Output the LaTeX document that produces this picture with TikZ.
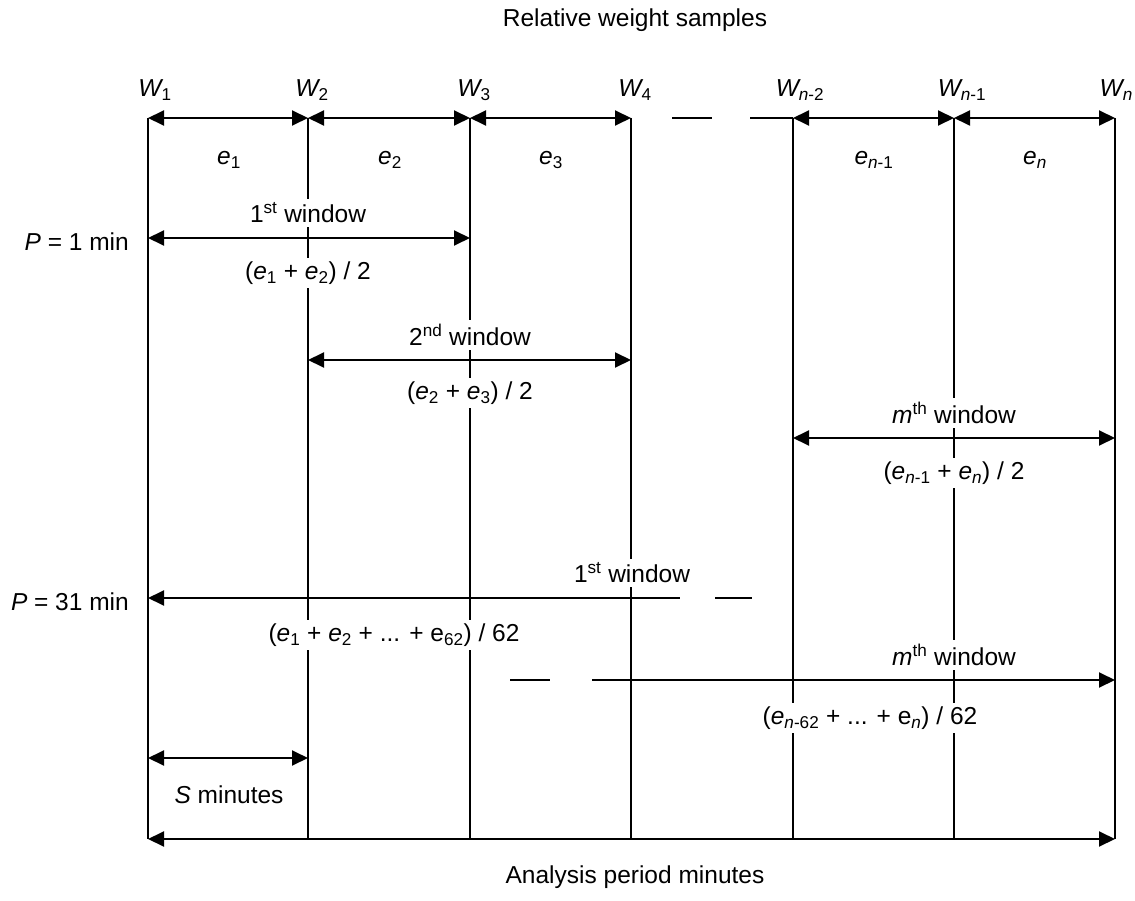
\documentclass[tikz,border=0pt]{standalone}
\usepackage{fontspec}
\setmainfont{Liberation Sans}
\usetikzlibrary{arrows.meta}
\newcommand{\iv}[1]{{\itshape #1}}
\begin{document}
\begin{tikzpicture}[x=1pt,y=-1pt,
  vline/.style={line width=1.9pt},
  dim/.style={line width=1.9pt,{Triangle[length=16pt,width=15pt]}-{Triangle[length=16pt,width=15pt]}},
  ldim/.style={line width=1.9pt,{Triangle[length=16pt,width=15pt]}-},
  rdim/.style={line width=1.9pt,-{Triangle[length=16pt,width=15pt]}},
  seg/.style={line width=1.9pt},
  lab/.style={font=\fontsize{24.5}{28}\selectfont, inner sep=4pt, fill=white},
  txt/.style={font=\fontsize{24.5}{28}\selectfont, inner sep=1pt},
]
\useasboundingbox (0,0) rectangle (1135,901);
\fill[white] (0,0) rectangle (1135,901);

% vertical sample lines
\foreach \i/\x in {1/148,2/308,3/470,4/631,5/793,6/954,7/1115}{
  \coordinate (t\i) at (\x,118);
  \coordinate (b\i) at (\x,839);
}
\foreach \i in {1,...,7}{ \draw[vline] (t\i) -- (b\i); }

% rows
\coordinate (r1) at (0,238);
\coordinate (r2) at (0,360);
\coordinate (r3) at (0,438);
\coordinate (r4) at (0,598);
\coordinate (r5) at (0,680);
\coordinate (r6) at (0,758);

% titles
\node[txt] (title) at (635,20) {Relative weight samples};
\node[txt] (bottom) at (635,877) {Analysis period minutes};

% W labels
\node[txt] (w1) at (155,90) {\iv{W}\textsubscript{1}};
\node[txt] (w2) at (312,90) {\iv{W}\textsubscript{2}};
\node[txt] (w3) at (474,90) {\iv{W}\textsubscript{3}};
\node[txt] (w4) at (635,90) {\iv{W}\textsubscript{4}};
\node[txt] (wn2) at (800,90) {\iv{W}\textsubscript{\iv{n}-2}};
\node[txt] (wn1) at (962,90) {\iv{W}\textsubscript{\iv{n}-1}};
\node[txt,anchor=east] (wn) at (1134,90) {\iv{W}\textsubscript{\iv{n}}};

% e labels
\node[txt] (e1) at (229,160) {\iv{e}\textsubscript{1}};
\node[txt] (e2) at (390,160) {\iv{e}\textsubscript{2}};
\node[txt] (e3) at (551,160) {\iv{e}\textsubscript{3}};
\node[txt] (en1) at (874,160) {\iv{e}\textsubscript{\iv{n}-1}};
\node[txt] (en) at (1035,160) {\iv{e}\textsubscript{\iv{n}}};

% P labels
\node[txt,anchor=east] (p1) at (130,242) {\iv{P} = 1 min};
\node[txt,anchor=east] (p31) at (130,602) {\iv{P} = 31 min};

% window labels (white boxes interrupt the vertical lines)
\node[lab] (win1) at (308,213) {1\textsuperscript{st} window};
\node[lab] (avg1) at (308,273) {(\iv{e}\textsubscript{1} + \iv{e}\textsubscript{2}) / 2};
\node[lab] (win2) at (470,335) {2\textsuperscript{nd} window};
\node[lab] (avg2) at (470,393) {(\iv{e}\textsubscript{2} + \iv{e}\textsubscript{3}) / 2};
\node[lab] (winm) at (954,413) {\iv{m}\textsuperscript{th} window};
\node[lab] (avgm) at (954,473) {(\iv{e}\textsubscript{\iv{n}-1} + \iv{e}\textsubscript{\iv{n}}) / 2};
\node[lab] (win31) at (632,573) {1\textsuperscript{st} window};
\node[lab] (avg31) at (394,635) {(\iv{e}\textsubscript{1} + \iv{e}\textsubscript{2} + ... + e\textsubscript{62}) / 62};
\node[lab] (winm31) at (954,655) {\iv{m}\textsuperscript{th} window};
\node[lab] (avgm31) at (870,718) {(\iv{e}\textsubscript{\iv{n}-62} + ... + e\textsubscript{\iv{n}}) / 62};
\node[lab] (smin) at (229,795) {\iv{S} minutes};

% top sample intervals
\draw[dim] (t1) -- (t2);
\draw[dim] (t2) -- (t3);
\draw[dim] (t3) -- (t4);
\coordinate (da) at (672,118);
\coordinate (db) at (712,118);
\coordinate (dc) at (750,118);
\draw[seg] (da) -- (db);
\draw[seg] (dc) -- (t5);
\draw[dim] (t5) -- (t6);
\draw[dim] (t6) -- (t7);

% P = 1 min windows
\draw[dim] (t1|-r1) -- (t3|-r1);
\draw[dim] (t2|-r2) -- (t4|-r2);
\draw[dim] (t5|-r3) -- (t7|-r3);

% P = 31 min windows
\coordinate (fa) at (680,598);
\coordinate (fb) at (715,598);
\coordinate (fc) at (752,598);
\draw[ldim] (t1|-r4) -- (fa);
\draw[seg] (fb) -- (fc);
\coordinate (ga) at (510,680);
\coordinate (gb) at (550,680);
\coordinate (gc) at (592,680);
\draw[seg] (ga) -- (gb);
\draw[rdim] (gc) -- (t7|-r5);

% S minutes and analysis period
\draw[dim] (t1|-r6) -- (t2|-r6);
\draw[dim] (b1) -- (b7);
\end{tikzpicture}
\end{document}
